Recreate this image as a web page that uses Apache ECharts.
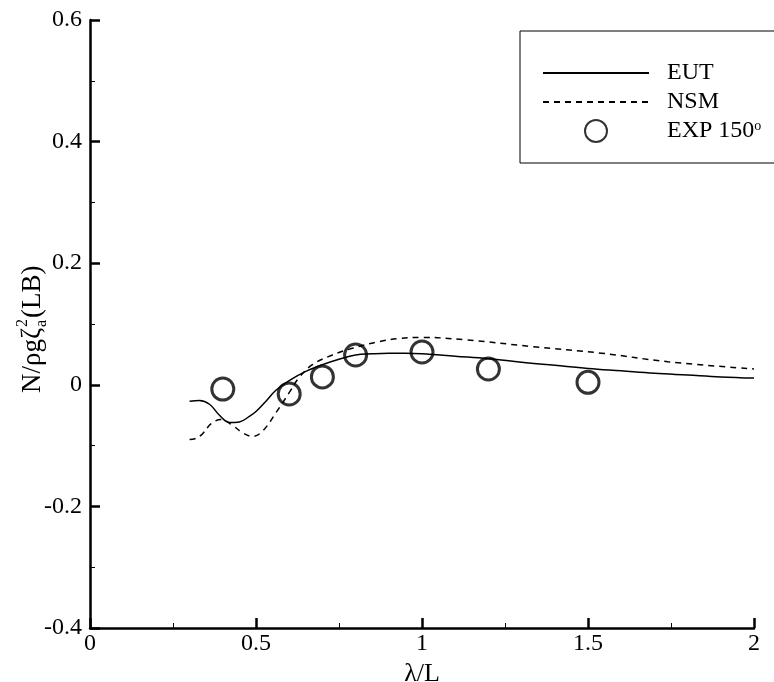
<!DOCTYPE html>
<html><head><meta charset="utf-8">
<script src="https://cdn.jsdelivr.net/npm/echarts@6/dist/echarts.min.js"></script>
<style>html,body{margin:0;padding:0;background:#fff}#c{width:774px;height:682px}</style>
</head><body><div id="c"></div>
<script>
const eutX = [0.30,0.33,0.36,0.39,0.42,0.45,0.48,0.50,0.53,0.56,0.60,0.65,0.70,0.75,0.80,0.85,0.90,0.95,1.00,1.10,1.20,1.30,1.40,1.50,1.60,1.70,1.80,1.90,2.00];
const eutY = [-0.027,-0.026,-0.032,-0.050,-0.062,-0.061,-0.052,-0.044,-0.027,-0.009,0.007,0.022,0.033,0.042,0.049,0.051,0.052,0.052,0.051,0.047,0.043,0.037,0.032,0.027,0.023,0.019,0.016,0.013,0.011];
const nsmX = [0.30,0.32,0.34,0.365,0.395,0.43,0.46,0.49,0.52,0.56,0.60,0.63,0.67,0.73,0.79,0.87,0.93,1.00,1.13,1.33,1.54,1.74,2.00];
const nsmY = [-0.090,-0.088,-0.080,-0.064,-0.057,-0.067,-0.079,-0.085,-0.076,-0.046,-0.013,0.012,0.033,0.049,0.060,0.071,0.076,0.078,0.074,0.063,0.052,0.038,0.026];
const expX = [0.4,0.6,0.7,0.8,1.0,1.2,1.5];
const expY = [-0.007,-0.015,0.013,0.049,0.054,0.026,0.004];
const xTicks = {min:0,max:2,interval:0.5};
const yTicks = {min:-0.4,max:0.6,interval:0.2};
const legendNames = ['EUT','NSM','EXP 150°'];

const zip = (a,b)=>a.map((v,i)=>[v,b[i]]);
const FONT = '"Liberation Serif", "DejaVu Serif", serif';
const chart = echarts.init(document.getElementById('c'));
const axisCommon = {
  axisLine:{show:true,onZero:false,lineStyle:{color:'#000',width:2.5}},
  axisTick:{show:true,inside:true,length:10,lineStyle:{color:'#000',width:2.5}},
  minorTick:{show:true,splitNumber:2,length:5,lineStyle:{color:'#000',width:1}},
  splitLine:{show:false},
  axisLabel:{color:'#000',fontSize:24,fontFamily:FONT,formatter:v=>String(+v.toFixed(2))}
};
chart.setOption({
  animation:false,
  grid:{left:90,right:20,top:20,bottom:54,containLabel:false,outerBoundsMode:'none'},
  xAxis:Object.assign({type:'value',min:xTicks.min,max:xTicks.max,interval:xTicks.interval,
    name:'λ/L',nameLocation:'middle',nameGap:24,
    nameTextStyle:{color:'#000',fontSize:26,fontFamily:FONT}},axisCommon,
    {axisLabel:Object.assign({},axisCommon.axisLabel,{margin:4})}),
  yAxis:Object.assign({type:'value',min:yTicks.min,max:yTicks.max,interval:yTicks.interval},axisCommon,
    {axisLabel:Object.assign({},axisCommon.axisLabel,{margin:8})}),
  legend:{
    orient:'vertical',left:520,top:31,
    data:[
      {name:legendNames[0],itemStyle:{opacity:0}},
      {name:legendNames[1],itemStyle:{opacity:0}},
      {name:legendNames[2]}
    ],
    itemWidth:106,itemHeight:22,itemGap:5,
    padding:[30,30,18,22],
    borderColor:'#000',borderWidth:1,backgroundColor:'#fff',borderRadius:0,
    textStyle:{color:'#000',fontSize:24,lineHeight:24,fontFamily:FONT,padding:[0,0,0,13],
      rich:{sup:{fontSize:14,lineHeight:14,fontFamily:FONT,color:'#000',verticalAlign:'top',padding:[0,0,12,0]}}},
    formatter:n=>n==='EXP 150°'?'EXP 150{sup|o}':n
  },
  graphic:[{
    type:'group',x:33,y:393,rotation:Math.PI/2,
    children:[
      {type:'text',x:0,y:0,style:{text:'N/ρgζ',font:'27px '+FONT,fill:'#000',textAlign:'left',textVerticalAlign:'middle'}},
      {type:'text',x:66,y:-10,style:{text:'2',font:'16px '+FONT,fill:'#000',textAlign:'left',textVerticalAlign:'middle'}},
      {type:'text',x:66,y:9,style:{text:'a',font:'16px '+FONT,fill:'#000',textAlign:'left',textVerticalAlign:'middle'}},
      {type:'text',x:75,y:0,style:{text:'(LB)',font:'27px '+FONT,fill:'#000',textAlign:'left',textVerticalAlign:'middle'}}
    ]
  }],
  series:[
    {name:legendNames[0],type:'line',data:zip(eutX,eutY),smooth:0.4,symbol:'none',
      lineStyle:{color:'#000',width:1.5},itemStyle:{color:'#000'}},
    {name:legendNames[1],type:'line',data:zip(nsmX,nsmY),smooth:0.4,symbol:'none',
      lineStyle:{color:'#000',width:1.5,type:[6,5]},itemStyle:{color:'#000'}},
    {name:legendNames[2],type:'scatter',data:zip(expX,expY),symbol:'circle',symbolSize:22,
      itemStyle:{color:'rgba(0,0,0,0)',borderColor:'#000',borderWidth:3}}
  ]
});
</script></body></html>
